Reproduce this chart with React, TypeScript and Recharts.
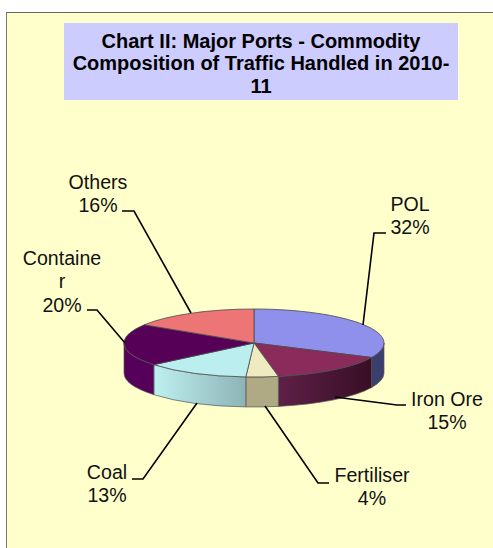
import React from 'react'
import { PieChart, Pie } from 'recharts'

const categories = ['POL', 'Iron Ore', 'Fertiliser', 'Coal', 'Container', 'Others']
const shares = [32, 15, 4, 13, 20, 16]
const titleLines = ['Chart II: Major Ports - Commodity', 'Composition of Traffic Handled in 2010-', '11']

const topColors = ['#8F8FEC', '#8A2B5C', '#EEEBC0', '#BBEEEE', '#560058', '#EE7575']
const wallFrom = ['#3A3F70', '#5E2048', '#AFA984', '#BEF0F0', '#55005A', '#C05E5E']
const wallTo = ['#3A3F70', '#380E25', '#AFA984', '#8DB3B6', '#55005A', '#C05E5E']

// label text is wrapped the way the original box wraps it
const labelRows = [['POL'], ['Iron Ore'], ['Fertiliser'], ['Coal'], ['Containe', 'r'], ['Others']]
const labelAt = [
  { x: 410, y: 204 },
  { x: 447, y: 399 },
  { x: 372, y: 475 },
  { x: 107, y: 472 },
  { x: 62, y: 258 },
  { x: 98, y: 182 },
]
const leaders = [
  '363,325 374,233 386,233',
  '335,397 397,405 406,405',
  '265,406 318,483 329,483',
  '197,403 143,479 132,479',
  '125,343 97,310 87,310',
  '191,313 134,211 122,211',
]

const data = categories.map((name, i) => ({ name, share: shares[i] }))

const CX = 254
const CY = 343
const RX = 130
const RY = 34
const DEPTH = 30
const FONT = '"Liberation Sans", Arial, sans-serif'

const pt = (angle: number, dy = 0) => {
  const r = (angle * Math.PI) / 180
  return [CX + RX * Math.cos(r), CY - RY * Math.sin(r) + dy]
}

function TopSlice(props: any) {
  const hi = Math.max(props.startAngle, props.endAngle)
  const lo = Math.min(props.startAngle, props.endAngle)
  const [x1, y1] = pt(hi)
  const [x2, y2] = pt(lo)
  const large = hi - lo > 180 ? 1 : 0
  const d = `M${CX},${CY} L${x1},${y1} A${RX},${RY} 0 ${large} 1 ${x2},${y2} Z`
  return <path d={d} fill={topColors[props.index]} stroke="#4a4a4a" strokeWidth={0.8} />
}

// only the part of a slice below the horizontal axis shows a wall
function WallSlice(props: any) {
  const hi = Math.min(Math.max(props.startAngle, props.endAngle), 0)
  const lo = Math.max(Math.min(props.startAngle, props.endAngle), -180)
  if (hi <= lo) return <g />
  const i = props.index
  const [x1, y1] = pt(hi)
  const [x2, y2] = pt(lo)
  const d = `M${x1},${y1} A${RX},${RY} 0 0 1 ${x2},${y2} L${x2},${y2 + DEPTH} A${RX},${RY} 0 0 0 ${x1},${y1 + DEPTH} Z`
  const id = `wall-${i}`
  return (
    <g>
      <defs>
        <linearGradient id={id} gradientUnits="userSpaceOnUse" x1={Math.min(x1, x2)} x2={Math.max(x1, x2)} y1={0} y2={0}>
          <stop offset="0%" stopColor={wallFrom[i]} />
          <stop offset="100%" stopColor={wallTo[i]} />
        </linearGradient>
      </defs>
      <path d={d} fill={`url(#${id})`} stroke="#555" strokeWidth={0.7} />
    </g>
  )
}

function SliceLabel(props: any) {
  const i = props.index
  const rows = [...labelRows[i], `${shares[i]}%`]
  return (
    <g>
      {rows.map((row, k) => (
        <text
          key={k}
          x={labelAt[i].x}
          y={labelAt[i].y + k * 23.3}
          textAnchor="middle"
          dominantBaseline="central"
          fontFamily={FONT}
          fontSize={19.6}
          fill="#111"
        >
          {row}
        </text>
      ))}
    </g>
  )
}

function Leader(props: any) {
  return <polyline points={leaders[props.index]} fill="none" stroke="#000" strokeWidth={1.6} />
}

export default function App() {
  return (
    <div style={{ position: 'absolute', left: 0, top: 0, width: 493, height: 548, overflow: 'hidden', background: '#fff' }}>
      <div
        style={{
          position: 'absolute',
          left: 6,
          top: 12,
          width: 487,
          height: 536,
          boxSizing: 'border-box',
          background: '#FFFFCC',
          borderLeft: '1.5px solid #777',
          borderTop: '1.5px solid #666',
        }}
      />
      <div
        style={{
          position: 'absolute',
          left: 64,
          top: 23,
          width: 394,
          height: 77,
          background: '#CCCCFF',
          textAlign: 'center',
          fontFamily: FONT,
          fontWeight: 700,
          fontSize: 20,
          lineHeight: '22.5px',
          color: '#000',
          paddingTop: 6.5,
          boxSizing: 'border-box',
        }}
      >
        {titleLines.map((line) => (
          <div key={line} style={{ whiteSpace: 'nowrap' }}>{line}</div>
        ))}
      </div>
      <div style={{ position: 'absolute', left: 0, top: 0 }}>
        <PieChart width={493} height={548} margin={{ top: 0, right: 0, bottom: 0, left: 0 }}>
          <Pie
            data={data}
            dataKey="share"
            nameKey="name"
            cx={CX}
            cy={CY}
            outerRadius={RX}
            startAngle={90}
            endAngle={-270}
            shape={WallSlice}
            isAnimationActive={false}
            label={false}
            labelLine={false}
          />
          <Pie
            data={data}
            dataKey="share"
            nameKey="name"
            cx={CX}
            cy={CY}
            outerRadius={RX}
            startAngle={90}
            endAngle={-270}
            shape={TopSlice}
            isAnimationActive={false}
            label={SliceLabel}
            labelLine={Leader}
          />
        </PieChart>
      </div>
    </div>
  )
}
